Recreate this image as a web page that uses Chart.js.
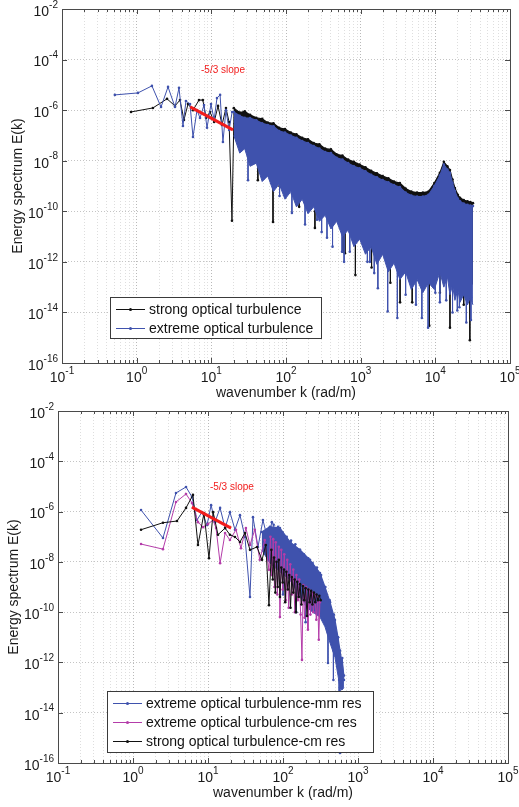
<!DOCTYPE html>
<html>
<head>
<meta charset="utf-8">
<script src="https://cdn.jsdelivr.net/npm/chart.js@4.4.1/dist/chart.umd.min.js"></script>
<style>
  html, body { margin: 0; padding: 0; background: #fff; }
  #wrap { position: relative; width: 519px; height: 807px; }
  canvas { position: absolute; left: 0; }
  #top-chart { top: 0; }
  #bottom-chart { top: 400px; }
</style>
</head>
<body>
<div id="wrap">
  <canvas id="top-chart" width="519" height="400" style="width:519px;height:400px"></canvas>
  <canvas id="bottom-chart" width="519" height="407" style="width:519px;height:407px"></canvas>
</div>
<script>
// ---- axes ----
const X_TICKS = [0.1, 0.2, 0.3, 0.4, 0.5, 0.6, 0.7, 0.8, 0.9,
                 1, 2, 3, 4, 5, 6, 7, 8, 9,
                 10, 20, 30, 40, 50, 60, 70, 80, 90,
                 100, 200, 300, 400, 500, 600, 700, 800, 900,
                 1000, 2000, 3000, 4000, 5000, 6000, 7000, 8000, 9000,
                 10000, 20000, 30000, 40000, 50000, 60000, 70000, 80000, 90000, 100000];
const X_LABEL_VALUES = [0.1, 1, 10, 100, 1000, 10000, 100000];
const X_LABEL_EXP = ['-1', '0', '1', '2', '3', '4', '5'];
const Y_TICKS = [1e-16, 1e-14, 1e-12, 1e-10, 1e-8, 1e-6, 1e-4, 1e-2];
const Y_LABEL_EXP = ['-16', '-14', '-12', '-10', '-8', '-6', '-4', '-2'];

// ---- top panel: strong / extreme optical turbulence ----
const strongK = [0.84, 1.65, 2.55, 3.26, 3.8, 4.3, 4.87, 5.68, 6.84, 7.7, 8.5, 9.6, 10.9, 12.3, 13.9, 15.7, 17.3, 18.9, 20.1];
const strongE = [8.5e-7, 1.22e-6, 2.8e-6, 1.47e-6, 2.5e-6, 4.1e-7, 1.74e-6, 1.0e-6, 2.5e-6, 2.5e-6, 4.9e-7, 8.5e-7, 3.4e-7, 1.47e-6, 2.6e-7, 1.22e-6, 3.4e-7, 4.2e-11, 8.5e-7];
const extremeK = [0.51, 1.04, 1.6, 2.12, 2.63, 3.26, 3.69, 4.17, 4.57, 5.18, 5.68, 6.43, 7.05, 7.98, 8.75, 9.9, 10.9, 11.9, 13.1, 14.3, 15.7, 17.3, 19.0];
const extremeE = [4.0e-6, 4.8e-6, 9.1e-6, 1.33e-6, 8.3e-6, 1.33e-6, 7.6e-6, 2.35e-7, 2.3e-6, 1.74e-6, 8.7e-8, 1.0e-6, 4.9e-7, 1.6e-6, 2.0e-7, 1.74e-6, 4.1e-7, 3.0e-6, 4.0e-6, 5.5e-8, 1.0e-6, 1.65e-7, 8.5e-7];

// dense part: upper edge and lower edge of the solid region
const bandK = [20, 24, 28, 33, 40, 48, 57, 68, 81, 97, 116, 138, 165, 197, 235, 280, 335, 400, 477, 570, 680, 812, 970, 1160,
               1380, 1650, 1970, 2350, 2800, 3350, 4000, 4770, 5700, 6800, 8100, 9700, 11500, 13000, 14500, 15700, 17000, 18300,
               20000, 21400, 24000, 27000, 29500, 31900];
const strongTop = [1.2e-6, 8e-7, 9e-7, 6.5e-7, 5e-7, 4.5e-7, 3.2e-7, 3e-7, 2e-7, 1.8e-7, 1.3e-7, 1.1e-7, 8e-8, 7e-8, 5e-8, 4.5e-8, 3e-8, 2.8e-8, 1.8e-8, 1.6e-8, 1.1e-8, 9e-9, 7e-9, 5.5e-9,
                   4e-9, 3.2e-9, 2.5e-9, 2e-9, 1.5e-9, 1.3e-9, 8e-10, 6e-10, 5.5e-10, 5.5e-10, 6e-10, 1.3e-9, 3.3e-9, 9e-9, 6e-9, 4.3e-9, 1.8e-9, 8.3e-10,
                   4.5e-10, 3.4e-10, 2.8e-10, 2.5e-10, 2.3e-10, 2.1e-10];
const strongBot = [3e-7, 1e-7, 6e-8, 3e-8, 1.5e-8, 8e-9, 5e-9, 3e-9, 2e-9, 1.5e-9, 1.2e-9, 9e-10, 7e-10, 5e-10, 3.5e-10, 2.5e-10, 1.8e-10, 1.3e-10, 9e-11, 6e-11, 4.5e-11, 3.5e-11, 2.5e-11, 1.8e-11,
                   1.3e-11, 9e-12, 7e-12, 5e-12, 3.5e-12, 2.5e-12, 1.6e-12, 1.1e-12, 9e-13, 8e-13, 8e-13, 1e-12, 1.5e-12, 1.2e-12, 9e-13, 6e-13, 4.5e-13, 3.5e-13,
                   3e-13, 2.5e-13, 2e-13, 1.7e-13, 1.5e-13, 1.3e-13];
const extremeTop = [8.5e-7, 6e-7, 5e-7, 4.9e-7, 4e-7, 3e-7, 2.6e-7, 2.3e-7, 1.5e-7, 1.3e-7, 1e-7, 8e-8, 6e-8, 5e-8, 3.8e-8, 3e-8, 2.2e-8, 2e-8, 1.3e-8, 1.1e-8, 8e-9, 6e-9, 5e-9, 3.8e-9,
                    2.8e-9, 2.2e-9, 1.7e-9, 1.4e-9, 1.1e-9, 9e-10, 5.5e-10, 4.2e-10, 3.8e-10, 3.8e-10, 4.5e-10, 1e-9, 2.6e-9, 7e-9, 4.5e-9, 3.3e-9, 1.3e-9, 6.3e-10,
                    3.2e-10, 2.5e-10, 2e-10, 1.8e-10, 1.7e-10, 1.6e-10];
const extremeBot = [1e-7, 2e-8, 3e-8, 6e-9, 8e-9, 1.5e-9, 2.5e-9, 6e-10, 1.2e-9, 3e-10, 6e-10, 1.5e-10, 3e-10, 8e-11, 1.5e-10, 4e-11, 7e-11, 2e-11, 4e-11, 1e-11, 1.8e-11, 4e-12, 8e-12, 2e-12,
                    4e-12, 8e-13, 2e-12, 4e-13, 9e-13, 2e-13, 4e-13, 8e-14, 2e-13, 6e-14, 1.5e-13, 8e-14, 4e-13, 1e-13, 2.5e-13, 5e-14, 1.2e-13, 3e-14,
                    8e-14, 2.5e-14, 5e-14, 2e-14, 4e-14, 2e-14];

// downward spikes below the solid region
const strongSpikeK = [42, 67, 82, 150, 244, 580, 617, 850, 1400, 2500, 3370, 4900, 8300, 11500, 15700, 24000, 29000];
const strongSpikeTop = [5e-8, 3e-8, 1e-8, 1e-9, 1e-10, 2e-11, 2e-11, 1e-11, 5e-12, 2e-12, 1e-12, 5e-13, 3e-13, 4e-13, 2e-13, 1e-13, 1e-13];
const strongSpikeBot = [1.7e-9, 3.8e-11, 1e-9, 1.5e-10, 2.2e-11, 2.5e-12, 2.2e-12, 3e-13, 6e-13, 1.5e-13, 2.5e-14, 2.5e-14, 3e-15, 6e-14, 2.5e-15, 2e-14, 8e-16];
const extremeSpikeK = [25, 31, 50, 82, 120, 180, 260, 300, 354, 420, 563, 600, 715, 1230, 1330, 1520, 1700, 2300, 3100, 4000, 5500, 6600, 8000, 10000, 11500, 14000, 17000, 19700, 21000, 26000, 30000];
const extremeSpikeTop = [2e-7, 3e-8, 8e-9, 2e-9, 5e-10, 2.5e-10, 1.2e-10, 1e-10, 6e-11, 4e-11, 2e-11, 2e-11, 1.5e-11, 6e-12, 5e-12, 4e-12, 3e-12, 1.5e-12, 9e-13, 5e-13, 2.5e-13, 1.8e-13, 1.7e-13, 3e-13, 4e-13, 2.5e-13, 1.2e-13, 9e-14, 7e-14, 5e-14, 4e-14];
const extremeSpikeBot = [3e-8, 1.7e-9, 2e-9, 4e-10, 8.5e-11, 3e-11, 4.6e-11, 1.5e-11, 9e-12, 4e-12, 2.5e-12, 1e-12, 2.5e-12, 1e-12, 1e-12, 3.6e-13, 9e-14, 1.1e-14, 6e-15, 5e-14, 2e-14, 6e-15, 2.5e-15, 6e-14, 2.5e-14, 3e-14, 1e-14, 1.2e-14, 1.6e-14, 4e-15, 5e-15];

const slopeK = [5.2, 19.5];
const slopeE = [1.35e-6, 1.65e-7];

// ---- bottom panel: resolution comparison ----
const mmK = [1.28, 2.51, 3.74, 5.09, 6.12, 7.13, 8.3, 9.7, 11.0, 12.4, 14.5, 16.9, 19.6, 22.9, 26.7, 31.1, 36.3, 39.8, 46.4, 54, 63, 71,
             75, 80, 86, 92, 98, 105, 112, 120, 128, 137, 146, 156, 167, 178, 190, 203, 217, 232, 248, 265, 283, 302, 322, 344,
             367, 392, 418, 446, 476, 508, 542, 578, 617, 650];
const mmE = [1.15e-6, 8.9e-8, 5.5e-6, 9.5e-6, 3.8e-6, 4.6e-7, 9.5e-7, 2.9e-7, 1.8e-6, 3.8e-7, 1.4e-6, 2.2e-7, 9.5e-7, 1.9e-7, 7.2e-7, 9.8e-8, 4e-10, 6e-7, 3.9e-8, 4.6e-7, 7.4e-8, 3.8e-7,
             3e-7, 2e-8, 2.5e-7, 1e-8, 1.5e-7, 5e-9, 1e-7, 3e-9, 7e-8, 2e-9, 5e-8, 1e-9, 3e-8, 5e-10, 2e-8, 3e-10, 1.4e-8, 2e-10, 9e-9, 1.5e-10, 6e-9, 1e-10, 3e-9, 5e-11,
             1e-9, 2e-11, 3e-10, 6e-12, 8e-11, 2e-12, 1e-11, 3e-13, 1.5e-12, 2e-13];
const cmK = [1.28, 2.51, 3.74, 5.09, 6.12, 7.35, 8.6, 10, 11.7, 12.8, 14.5, 16.9, 19.6, 23.6, 27.5, 32, 36.3, 42, 49, 57, 65,
             68, 71, 74, 77, 80, 84, 88, 91, 95, 99, 104, 109, 114, 119, 125, 131, 137, 144, 151, 158, 165, 172, 179, 186, 194,
             203, 212, 215, 222, 232, 243, 254, 266, 278, 290, 300, 310];
const cmE = [5.1e-8, 3.2e-8, 2.4e-6, 5e-6, 2.2e-6, 3.8e-7, 2.4e-7, 3.2e-7, 4.6e-7, 2.2e-7, 8.9e-9, 1.4e-7, 7.4e-8, 1.9e-7, 3.5e-8, 2.2e-7, 4.7e-8, 1.9e-7, 1.2e-8, 7.4e-8, 4.8e-9,
             1e-7, 3e-9, 8e-8, 1e-9, 6e-8, 5e-10, 4e-8, 6.4e-11, 3e-8, 8e-10, 2e-8, 3e-10, 1.2e-8, 1.5e-10, 8e-9, 5e-10, 5e-9, 1e-10, 3e-9, 3e-10, 2e-9, 8e-11, 1.26e-12, 1.2e-9, 6e-11,
             1e-9, 1.5e-10, 2e-11, 8e-10, 8e-11, 6e-10, 1e-10, 5e-10, 5e-11, 4e-10, 8e-12, 2.5e-10];
const scK = [1.28, 2.51, 3.86, 5.09, 6.3, 7.35, 8.85, 10.3, 11.7, 13.6, 16.9, 19.6, 22.9, 26.7, 31.1, 36.3, 45, 52.5, 59, 65, 70,
             73, 76, 79, 82, 85, 88, 91, 95, 99, 103, 107, 111, 116, 121, 126, 131, 137, 143, 149, 155, 162, 169, 176, 184, 192,
             200, 209, 218, 227, 237, 247, 258, 269, 280, 292, 305, 318];
const scE = [1.9e-7, 3.6e-7, 4.2e-7, 1.4e-6, 4.6e-6, 4.7e-8, 8.7e-7, 1.4e-8, 9.5e-7, 1.2e-7, 2.2e-7, 1.2e-7, 9.8e-8, 6.2e-8, 1.4e-7, 3e-8, 3.9e-8, 1.2e-8, 4.7e-8, 1.9e-10, 3e-8,
             2e-9, 1.5e-8, 6e-10, 1e-8, 1e-9, 1.2e-8, 4e-10, 6e-9, 1.5e-9, 5e-9, 2.5e-10, 4e-9, 8e-10, 3e-9, 1.5e-10, 2.5e-9, 6e-10, 2e-9, 1e-10, 1.6e-9, 4e-10, 1.3e-9, 2e-10, 1.1e-9, 3e-10,
             9e-10, 7e-11, 8e-10, 2.5e-10, 7e-10, 2e-10, 6e-10, 2.5e-10, 5e-10, 3e-10, 4.5e-10, 3e-10];

const mmBandK = [52, 67, 91, 124, 169, 229, 311, 363, 424, 493, 541, 575, 612, 650];
const mmTop = [1.55e-7, 2.5e-7, 2.2e-7, 6.2e-8, 3e-8, 1.2e-8, 3.6e-9, 1e-9, 2.5e-10, 4.9e-11, 1e-11, 3e-12, 1e-12, 3e-13];
const mmBot = [3e-8, 8.9e-9, 4e-9, 1.9e-9, 4e-10, 1.2e-10, 6.4e-11, 2.6e-11, 5.9e-12, 1.6e-12, 3e-13, 1e-13, 8e-14, 1e-13];
const mmSpikeK = [100, 150, 200, 398, 470, 560, 575];
const mmSpikeTop = [4e-9, 8e-10, 2e-10, 1.5e-11, 3e-12, 2e-13, 1e-13];
const mmSpikeBot = [5e-10, 1e-10, 4e-11, 9.5e-13, 2e-13, 1e-14, 2.5e-16];

const slopeK2 = [6.1, 20.3];
const slopeE2 = [1.5e-6, 2.2e-7];

const TOP_LEGEND = ['strong optical turbulence', 'extreme optical turbulence'];
const BOTTOM_LEGEND = ['extreme optical turbulence-mm res', 'extreme optical turbulence-cm res', 'strong optical turbulence-cm res'];

const FONT = '"Liberation Sans", Arial, Helvetica, sans-serif';
const BLUE = '#3f52ad';
const MAGENTA = '#b43ca9';
const BLACK = '#111111';
const RED = '#f21d1d';

function series(ks, es) { return ks.map((k, i) => ({ x: k, y: es[i] })); }

function spikeSeries(ks, tops, bots) {
    let out = [];
    ks.forEach((k, i) => { out.push({ x: k, y: tops[i] }, { x: k, y: bots[i] }, { x: k, y: null }); });
    return out;
}

function lineSet(data, color, order, extra) {
    return Object.assign({
        data: data,
        borderColor: color,
        backgroundColor: color,
        pointBackgroundColor: color,
        pointBorderWidth: 0,
        pointRadius: 1.3,
        borderWidth: 1,
        tension: 0,
        fill: false,
        order: order
    }, extra || {});
}

function bandSets(color, order, bK, bTop, bBot) {
    return [
        lineSet(series(bK, bTop), color, order, { borderWidth: 1.2 }),
        lineSet(series(bK, bBot), color, order, { pointRadius: 0, fill: '-1' })
    ];
}

function drawPow(ctx, x, y, exp, align) {
    ctx.font = '14px ' + FONT;
    const wBase = ctx.measureText('10').width;
    ctx.font = '10px ' + FONT;
    const wExp = ctx.measureText(exp).width;
    const left = align === 'right' ? x - wBase - wExp : x - (wBase + wExp) / 2;
    ctx.textAlign = 'left';
    ctx.textBaseline = 'middle';
    ctx.font = '14px ' + FONT;
    ctx.fillText('10', left, y + 3);
    ctx.font = '10px ' + FONT;
    ctx.fillText(exp, left + wBase, y - 4);
}

const matlabAxes = {
    id: 'matlabAxes',
    afterDatasetsDraw(chart, args, opts) {
        const { ctx, chartArea: a, scales: { x, y } } = chart;
        ctx.save();
        ctx.strokeStyle = '#4a4a4a';
        ctx.lineWidth = 1;
        ctx.beginPath();
        x.ticks.forEach((t) => {
            const px = Math.round(x.getPixelForValue(t.value)) + 0.5;
            const len = t.major ? 5 : 3;
            ctx.moveTo(px, a.bottom); ctx.lineTo(px, a.bottom - len);
            ctx.moveTo(px, a.top); ctx.lineTo(px, a.top + len);
        });
        y.ticks.forEach((t) => {
            const py = Math.round(y.getPixelForValue(t.value)) + 0.5;
            ctx.moveTo(a.left, py); ctx.lineTo(a.left + 5, py);
            ctx.moveTo(a.right, py); ctx.lineTo(a.right - 5, py);
        });
        ctx.stroke();
        ctx.strokeRect(Math.round(a.left) + 0.5, Math.round(a.top) + 0.5, Math.round(a.right - a.left), Math.round(a.bottom - a.top));
        ctx.restore();
    },
    afterDraw(chart, args, opts) {
        const { ctx, chartArea: a, scales: { x, y } } = chart;
        ctx.save();
        ctx.fillStyle = '#1a1a1a';
        X_LABEL_VALUES.forEach((v, i) => drawPow(ctx, x.getPixelForValue(v), a.bottom + 12, X_LABEL_EXP[i], 'center'));
        Y_TICKS.forEach((v, i) => drawPow(ctx, a.left - 4, y.getPixelForValue(v), Y_LABEL_EXP[i], 'right'));

        // axis titles
        ctx.font = '14px ' + FONT;
        ctx.textAlign = 'center';
        ctx.textBaseline = 'middle';
        ctx.fillText('wavenumber k (rad/m)', opts.xTitle[0], opts.xTitle[1]);
        ctx.save();
        ctx.translate(opts.yTitle[0], (a.top + a.bottom) / 2);
        ctx.rotate(-Math.PI / 2);
        ctx.fillText('Energy spectrum E(k)', 0, 0);
        ctx.restore();

        // slope note
        ctx.fillStyle = RED;
        ctx.font = '10px ' + FONT;
        ctx.textAlign = 'left';
        ctx.fillText('-5/3 slope', x.getPixelForValue(opts.note[0]), y.getPixelForValue(opts.note[1]));

        // legend
        const L = opts.legend;
        ctx.fillStyle = '#ffffff';
        ctx.fillRect(L.left, L.top, L.width, L.height);
        ctx.strokeStyle = '#3a3a3a';
        ctx.lineWidth = 1;
        ctx.strokeRect(L.left + 0.5, L.top + 0.5, L.width, L.height);
        L.labels.forEach((label, i) => {
            const yy = L.top + 12 + i * 19;
            ctx.strokeStyle = L.colors[i];
            ctx.beginPath();
            ctx.moveTo(L.left + 6, yy + 0.5);
            ctx.lineTo(L.left + 35, yy + 0.5);
            ctx.stroke();
            ctx.fillStyle = L.colors[i];
            ctx.beginPath();
            ctx.arc(L.left + 20.5, yy + 0.5, 1.5, 0, Math.PI * 2);
            ctx.fill();
            ctx.fillStyle = '#111';
            ctx.font = '14px ' + FONT;
            ctx.textAlign = 'left';
            ctx.textBaseline = 'middle';
            ctx.fillText(label, L.left + 39, yy + 1);
        });
        ctx.restore();
    }
};

function makePanel(canvasId, datasets, geom, pluginOpts) {
    const gridColor = (c) => (c.tick && c.tick.major) ? '#b9b9b9' : '#dedede';
    new Chart(document.getElementById(canvasId), {
        type: 'line',
        data: { datasets: datasets },
        plugins: [matlabAxes],
        options: {
            responsive: false,
            animation: false,
            events: [],
            layout: { padding: { left: 0, top: geom.top, right: geom.right, bottom: 0 } },
            plugins: {
                legend: { display: false },
                tooltip: { enabled: false },
                matlabAxes: pluginOpts
            },
            scales: {
                x: {
                    type: 'logarithmic',
                    min: 0.1,
                    max: 100000,
                    ticks: { display: false, autoSkip: false },
                    grid: { color: gridColor, lineWidth: 1, drawTicks: false },
                    border: { display: false, dash: [1, 2] },
                    afterBuildTicks: (s) => {
                        s.ticks = X_TICKS.map((v) => ({ value: v, major: X_LABEL_VALUES.includes(v) }));
                    },
                    afterFit: (s) => { s.height = geom.xHeight; }
                },
                y: {
                    type: 'logarithmic',
                    min: 1e-16,
                    max: 1e-2,
                    ticks: { display: false, autoSkip: false },
                    grid: { color: '#c4c4c4', lineWidth: 1, drawTicks: false },
                    border: { display: false, dash: [1, 2] },
                    afterBuildTicks: (s) => {
                        s.ticks = Y_TICKS.map((v) => ({ value: v, major: true }));
                    },
                    afterFit: (s) => { s.width = geom.yWidth; }
                }
            }
        }
    });
}

window.addEventListener('load', () => {
    const topSets = [].concat(
        [lineSet(series(slopeK, slopeE), RED, 0, { borderWidth: 3, pointRadius: 0 })],
        [lineSet(series(extremeK, extremeE), BLUE, 1)],
        bandSets(BLUE, 1, bandK, extremeTop, extremeBot),
        [lineSet(spikeSeries(extremeSpikeK, extremeSpikeTop, extremeSpikeBot), BLUE, 1)],
        [lineSet(series(strongK, strongE), BLACK, 2)],
        bandSets(BLACK, 2, bandK, strongTop, strongBot),
        [lineSet(spikeSeries(strongSpikeK, strongSpikeTop, strongSpikeBot), BLACK, 2)]
    );
    makePanel('top-chart', topSets,
        { top: 9, right: 9, xHeight: 37, yWidth: 62 },
        {
            xTitle: [286, 393], yTitle: [18],
            note: [7.28, 3.9e-5],
            legend: { left: 110, top: 297, width: 211, height: 41, labels: TOP_LEGEND, colors: [BLACK, BLUE] }
        });

    const bottomSets = [].concat(
        [lineSet(series(slopeK2, slopeE2), RED, 0, { borderWidth: 3, pointRadius: 0 })],
        [lineSet(series(scK, scE), BLACK, 1)],
        [lineSet(series(cmK, cmE), MAGENTA, 2)],
        [lineSet(series(mmK, mmE), BLUE, 3)],
        bandSets(BLUE, 3, mmBandK, mmTop, mmBot),
        [lineSet(spikeSeries(mmSpikeK, mmSpikeTop, mmSpikeBot), BLUE, 3)]
    );
    makePanel('bottom-chart', bottomSets,
        { top: 11, right: 11, xHeight: 44, yWidth: 58 },
        {
            xTitle: [283, 393], yTitle: [14],
            note: [10.6, 9.5e-6],
            legend: { left: 107, top: 291, width: 266, height: 61, labels: BOTTOM_LEGEND, colors: [BLUE, MAGENTA, BLACK] }
        });
});
</script>
</body>
</html>
